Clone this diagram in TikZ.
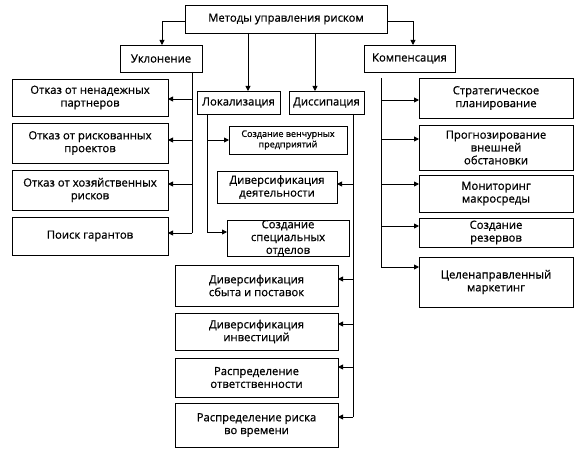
\documentclass[tikz,border=0pt]{standalone}
\usepackage{fontspec}
\setmainfont{Open Sans}[BoldFont=Open Sans, BoldFeatures={FakeBold=0.7}]
\usetikzlibrary{arrows.meta}
\newcommand{\bx}[6]{%
  \node[box, minimum width={(#4-#2)*1pt}, minimum height={(#5-#3)*1pt}] (#1) at ({(#2+#4)/2},{(#3+#5)/2}) {#6};}
\begin{document}
\begin{tikzpicture}[x=1pt,y=-1pt,
  box/.style={draw, line width=0.9pt, inner sep=0pt, outer sep=0pt, align=center,
    font=\fontsize{11.3}{12.8}\selectfont\bfseries},
  smallbox/.style={font=\fontsize{9}{10.5}\selectfont\bfseries},
  arr/.style={line width=0.9pt, -{Triangle[length=5pt,width=5pt]}},
  ln/.style={line width=0.9pt}]
\useasboundingbox (0,0) rectangle (581,457);
\bx{top}{185}{5}{387}{33}{Методы управления риском}
\bx{ukl}{120}{45}{202}{72}{Уклонение}
\bx{komp}{364}{45}{455}{72}{Компенсация}
\bx{lok}{197}{91}{280}{114}{Локализация}
\bx{dis}{289}{91}{364}{114}{Диссипация}
\bx{l1}{12}{79}{168}{116}{Отказ от ненадежных\\партнеров}
\bx{l2}{12}{123}{168}{163}{Отказ от рискованных\\проектов}
\bx{l3}{12}{170}{168}{210}{Отказ от хозяйственных\\рисков}
\bx{l4}{12}{217}{168}{255}{Поиск гарантов}
\node[box, smallbox, minimum width=118pt, minimum height=28pt] (v1) at (288,140) {Создание венчурных\\предприятий};
\bx{v2}{217}{171}{337}{203}{Диверсификация\\деятельности}
\bx{v3}{227}{220}{349}{256}{Создание\\специальных\\отделов}
\bx{d1}{175}{265}{338}{306}{Диверсификация\\сбыта и поставок}
\bx{d2}{175}{313}{338}{350}{Диверсификация\\инвестиций}
\bx{d3}{175}{358}{338}{397}{Распределение\\ответственности}
\bx{d4}{175}{403}{338}{447}{Распределение риска\\во времени}
\bx{r1}{419}{78}{573}{118}{Стратегическое\\планирование}
\bx{r2}{419}{125}{573}{170}{Прогнозирование\\внешней\\обстановки}
\bx{r3}{419}{175}{573}{212}{Мониторинг\\макросреды}
\bx{r4}{419}{218}{573}{247}{Создание\\резервов}
\bx{r5}{419}{257}{573}{307}{Целенаправленный\\маркетинг}
% top level connectors
\coordinate (tl) at (162,21);
\coordinate (tr) at (413,21);
\coordinate (tm1) at (248,0);
\coordinate (tm2) at (315,0);
\draw[arr] (top.west |- tl) -- (tl) -- (ukl.north -| tl);
\draw[arr] (top.east |- tr) -- (tr) -- (komp.north -| tr);
\draw[arr] (top.south -| tm1) -- (lok.north -| tm1);
\draw[arr] (top.south -| tm2) -- (dis.north -| tm2);
% Uklonenie trunk
\coordinate (u1) at (192,99);
\coordinate (u2) at (192,140);
\coordinate (u3) at (192,184);
\coordinate (u4) at (192,233);
\draw[ln] (ukl.south -| u4) -- (u4);
\draw[arr] (u1) -- (u1 -| l1.east);
\draw[arr] (u2) -- (u2 -| l2.east);
\draw[arr] (u3) -- (u3 -| l3.east);
\draw[arr] (u4) -- (u4 -| l4.east);
% Lokalizatsiya trunk
\coordinate (k1) at (207,140);
\coordinate (k2) at (207,232);
\draw[ln] (lok.south -| k2) -- (k2);
\draw[arr] (k1) -- (k1 -| v1.west);
\draw[arr] (k2) -- (k2 -| v3.west);
% Dissipatsiya trunk
\coordinate (s1) at (353,184);
\coordinate (s2) at (353,279);
\coordinate (s3) at (353,324);
\coordinate (s4) at (353,367);
\coordinate (s5) at (353,417);
\draw[ln] (dis.south -| s5) -- (s5);
\draw[arr] (s1) -- (s1 -| v2.east);
\draw[arr] (s2) -- (s2 -| d1.east);
\draw[arr] (s3) -- (s3 -| d2.east);
\draw[arr] (s4) -- (s4 -| d3.east);
\draw[arr] (s5) -- (s5 -| d4.east);
% Kompensatsiya trunk
\coordinate (c0) at (381,78);
\coordinate (c1) at (381,100);
\coordinate (c2) at (381,139);
\coordinate (c3) at (381,184);
\coordinate (c4) at (381,226);
\coordinate (c5) at (381,267);
\draw[ln] (c0) -- (c5);
\draw[arr] (c1) -- (c1 -| r1.west);
\draw[arr] (c2) -- (c2 -| r2.west);
\draw[arr] (c3) -- (c3 -| r3.west);
\draw[arr] (c4) -- (c4 -| r4.west);
\draw[arr] (c5) -- (c5 -| r5.west);
\end{tikzpicture}
\end{document}
